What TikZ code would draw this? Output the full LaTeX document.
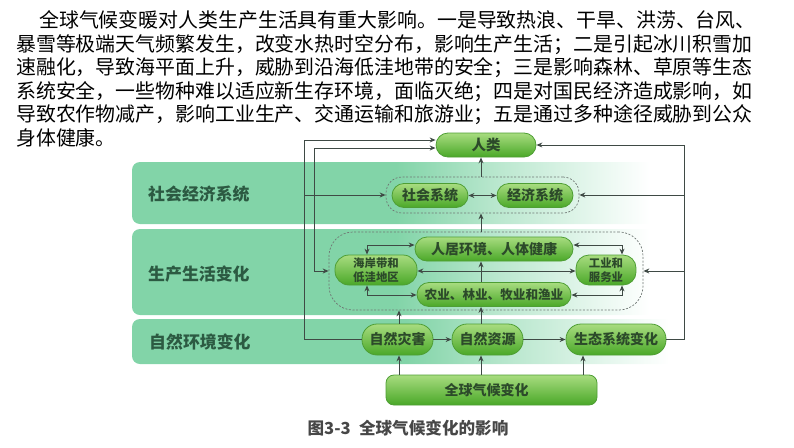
\documentclass[tikz,border=0pt]{standalone}
\usepackage{fontspec}
\setmainfont{Noto Sans CJK SC}
\usetikzlibrary{arrows.meta}
\definecolor{bandc}{HTML}{82D4A8}
\definecolor{bandm}{HTML}{BCE8D0}
\definecolor{bandl}{HTML}{ECF9F2}
\definecolor{linec}{HTML}{3F4A45}
\definecolor{nodetop}{HTML}{A8DC80}
\definecolor{nodebot}{HTML}{4AA828}
\definecolor{nodeedge}{HTML}{4E9E34}
\definecolor{nodetxt}{HTML}{2C4A2A}
\definecolor{bandtxt}{HTML}{2C5A42}
\pgfdeclarehorizontalshading{bandfade}{100bp}{color(0bp)=(bandc); color(50bp)=(bandc); color(60bp)=(bandm); color(70bp)=(bandl); color(74bp)=(white); color(100bp)=(white)}
\tikzset{
  bandbox/.style={rounded corners=8pt,shading=bandfade,shading angle=0},
  bandlabel/.style={anchor=west,inner sep=0pt,font=\fontsize{16.9}{18}\selectfont\bfseries,text=bandtxt},
  gbox/.style={draw=nodeedge,line width=0.8pt,top color=nodetop,bottom color=nodebot,rounded corners=#1,inner sep=0pt,align=center,text=nodetxt,font=\fontsize{14}{15}\selectfont\bfseries},
  gbox/.default=12pt,
  dashbox/.style={draw=linec!75,dashed,dash pattern=on 2pt off 1.6pt,line width=0.7pt,rounded corners=#1,fill=none,inner sep=0pt},
  conn/.style={draw=linec,line width=0.95pt,-{Stealth[length=6pt,width=5pt]}},
  dconn/.style={draw=linec,line width=0.95pt,{Stealth[length=6pt,width=5pt]}-{Stealth[length=6pt,width=5pt]}},
  para/.style={anchor=base west,inner sep=0pt,font=\fontsize{19.9}{22}\selectfont,text=black},
}
\begin{document}
\begin{tikzpicture}[x=1pt,y=-1pt]
\useasboundingbox (0,0) rectangle (794,447);
% paragraph
\node[para] (p1) at (39,27.5) {全球气候变暖对人类生产生活具有重大影响。一是导致热浪、干旱、洪涝、台风、};
\node[para] (p2) at (16,51) {暴雪等极端天气频繁发生，改变水热时空分布，影响生产生活；二是引起冰川积雪加};
\node[para] (p3) at (16,74.5) {速融化，导致海平面上升，威胁到沿海低洼地带的安全；三是影响森林、草原等生态};
\node[para] (p4) at (16,98) {系统安全，一些物种难以适应新生存环境，面临灭绝；四是对国民经济造成影响，如};
\node[para] (p5) at (16,121.5) {导致农作物减产，影响工业生产、交通运输和旅游业；五是通过多种途径威胁到公众};
\node[para] (p6) at (16,145) {身体健康。};
% bands
\path[bandbox] (132,162) rectangle (660,224);
\path[bandbox] (132,229) rectangle (660,315);
\path[bandbox] (132,319) rectangle (680,364);
\node[bandlabel] (b1) at (148,194) {社会经济系统};
\node[bandlabel] (b2) at (148,274) {生产生活变化};
\node[bandlabel] (b3) at (149,342) {自然环境变化};
% dashed groups
\node[dashbox=16pt,minimum width=193pt,minimum height=36pt] (d1) at (482.5,195) {};
\node[dashbox=24pt,minimum width=314pt,minimum height=78pt] (d2) at (486,271) {};
% nodes
\node[gbox,minimum width=100pt,minimum height=24pt] (ren) at (486,145) {\fontsize{14.5}{15}\selectfont 人类};
\node[gbox,minimum width=76pt,minimum height=24pt] (shehui) at (430,195.5) {社会系统};
\node[gbox,minimum width=76pt,minimum height=24pt] (jingji) at (535,195.5) {经济系统};
\node[gbox,minimum width=158pt,minimum height=24pt] (renju) at (494,249) {人居环境、人体健康};
\node[gbox=14pt,minimum width=82pt,minimum height=30pt,font=\fontsize{11.4}{13.5}\selectfont\bfseries] (haian) at (376,270) {海岸带和\\低洼地区};
\node[gbox,minimum width=154pt,minimum height=24pt,font=\fontsize{12.6}{15}\selectfont\bfseries] (nongye) at (494,294.5) {农业、林业、牧业和渔业};
\node[gbox=13pt,minimum width=60pt,minimum height=30pt,font=\fontsize{11.4}{13.5}\selectfont\bfseries] (gongye) at (606,270) {工业和\\服务业};
\node[gbox=15pt,minimum width=71pt,minimum height=31pt] (zaihai) at (397.5,339.5) {自然灾害};
\node[gbox=15pt,minimum width=71pt,minimum height=31pt] (ziyuan) at (487.5,339.5) {自然资源};
\node[gbox=15pt,minimum width=100pt,minimum height=31pt] (shengtai) at (616,339.5) {生态系统变化};
\node[gbox=8pt,minimum width=211pt,minimum height=30pt] (quanqiu) at (491.5,390) {全球气候变化\hspace*{10pt}};
% rails
\coordinate (xA) at (304,0);
\coordinate (xB) at (314.5,0);
\coordinate (xC) at (684,0);
\coordinate (x1) at (399,0);
\coordinate (x2) at (481,0);
\coordinate (x3) at (583,0);
\coordinate (x4) at (367,0);
\coordinate (x5) at (622,0);
\coordinate (y1) at (0,140);
\coordinate (y2) at (0,148);
\coordinate (y3) at (0,245);
\coordinate (y4) at (0,295);
\coordinate (y5) at (0,271);
% left loops
\draw[conn] (zaihai.west) -| (xA |- y1) -- (ren.west |- y1);
\draw[conn] (xA |- d1.west) -- (d1.west);
\draw[dconn] (d2.west |- y5) -| (xB |- y2) -- (ren.west |- y2);
% right loop
\draw[conn] (shengtai.east) -| (xC |- ren.east) -- (ren.east);
\draw[conn] (xC |- d1.east) -- (d1.east);
\draw[conn] (xC |- y5) -- (d2.east |- y5);
% vertical
\draw[conn] (x2 |- d1.north) -- (x2 |- ren.south);
\draw[conn] (x2 |- d2.north) -- (x2 |- d1.south);
\draw[conn] (x2 |- ziyuan.north) -- (x2 |- nongye.south);
\draw[conn] (x1 |- zaihai.north) -- (x1 |- d2.south);
\draw[conn] (x1 |- quanqiu.north) -- (x1 |- zaihai.south);
\draw[conn] (x2 |- quanqiu.north) -- (x2 |- ziyuan.south);
\draw[conn] (x3 |- quanqiu.north) -- (x3 |- shengtai.south);
\draw[conn] (zaihai.east) -- (ziyuan.west);
\draw[conn] (ziyuan.east) -- (shengtai.west);
% inner
\draw[dconn] (shehui.east) -- (jingji.west);
\draw[dconn] (x4 |- haian.north) |- (renju.west |- y3);
\draw[dconn] (x4 |- haian.south) |- (nongye.west |- y4);
\draw[dconn] (renju.east |- y3) -| (x5 |- gongye.north);
\draw[dconn] (nongye.east |- y4) -| (x5 |- gongye.south);
\draw[dconn] (haian.east |- y5) -- (gongye.west |- y5);
\draw[conn] (x2 |- nongye.north) -- (x2 |- renju.south);
% caption
\node[inner sep=0pt,text=black!72,font=\fontsize{16.6}{18}\selectfont\bfseries] (cap) at (408,428) {图3-3\hspace{0.5em}全球气候变化的影响};
\end{tikzpicture}
\end{document}
